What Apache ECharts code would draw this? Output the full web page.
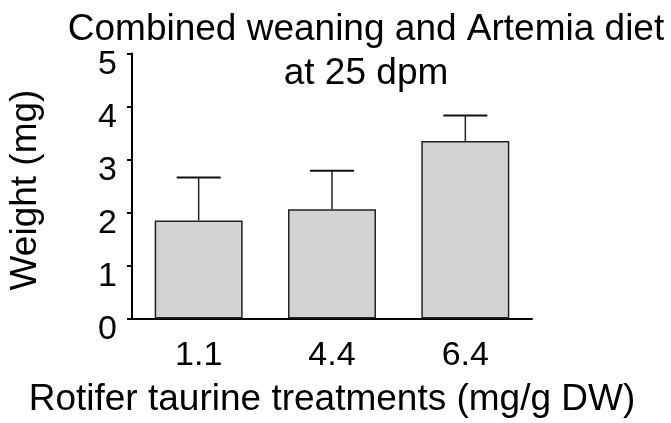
<!DOCTYPE html>
<html><head><meta charset="utf-8">
<script src="https://cdn.jsdelivr.net/npm/echarts@6/dist/echarts.min.js"></script>
<style>html,body{margin:0;padding:0;background:#fff}#c{width:671px;height:423px}</style>
</head><body><div id="c"></div>
<script>
const categories = ['1.1', '4.4', '6.4'];
const meanWeight = [1.85, 2.06, 3.35];
const upperError = [2.66, 2.79, 3.83];
const yTicks = [0, 1, 2, 3, 4, 5];

const FONT = 'Liberation Sans, Arial, sans-serif';
const chart = echarts.init(document.getElementById('c'));
chart.setOption({
  animation: false,
  backgroundColor: '#fff',
  title: {
    text: 'Combined weaning and Artemia diet\nat 25 dpm',
    left: 361, top: 3, textAlign: 'center',
    textStyle: { fontFamily: FONT, fontSize: 37, fontWeight: 'normal', color: '#000', lineHeight: 44 }
  },
  grid: { left: 132, right: 139, top: 53.5, bottom: 104.5, containLabel: false, outerBoundsMode: 'none' },
  xAxis: {
    type: 'category', data: categories,
    name: 'Rotifer taurine treatments (mg/g DW)', nameLocation: 'middle', nameGap: 63,
    nameTextStyle: { fontFamily: FONT, fontSize: 37, color: '#000', align: 'center' },
    axisLine: { lineStyle: { color: '#000', width: 2 } },
    axisTick: { alignWithLabel: true, length: 8, lineStyle: { color: '#000', width: 2 } },
    axisLabel: { fontFamily: FONT, fontSize: 34, color: '#000', margin: 20 }
  },
  yAxis: {
    type: 'value', min: yTicks[0], max: yTicks[yTicks.length - 1], interval: 1,
    name: 'Weight (mg)', nameLocation: 'middle', nameGap: 88, nameRotate: 90,
    nameTextStyle: { fontFamily: FONT, fontSize: 37, color: '#000', padding: [0, 8, 0, 0] },
    axisLine: { show: true, lineStyle: { color: '#000', width: 2 } },
    axisTick: { show: true, length: 5, lineStyle: { color: '#000', width: 2 } },
    splitLine: { show: false },
    axisLabel: { fontFamily: FONT, fontSize: 34, color: '#000', margin: 15, verticalAlign: 'top', lineHeight: 22 }
  },
  series: [
    {
      type: 'bar', data: meanWeight, barWidth: '66%',
      itemStyle: { color: '#d3d3d3', borderColor: '#222', borderWidth: 1.5 }
    },
    {
      type: 'custom', z: 1,
      data: categories.map((c, i) => [i, meanWeight[i], upperError[i]]),
      renderItem: function (params, api) {
        const x = api.value(0);
        const base = api.coord([x, api.value(1)]);
        const top = api.coord([x, api.value(2)]);
        const half = 22;
        return {
          type: 'group',
          children: [
            { type: 'line', shape: { x1: base[0], y1: base[1], x2: top[0], y2: top[1] }, style: { stroke: '#222', lineWidth: 1.5 } },
            { type: 'line', shape: { x1: top[0] - half, y1: top[1], x2: top[0] + half, y2: top[1] }, style: { stroke: '#111', lineWidth: 2 } }
          ]
        };
      }
    }
  ]
});
</script></body></html>
